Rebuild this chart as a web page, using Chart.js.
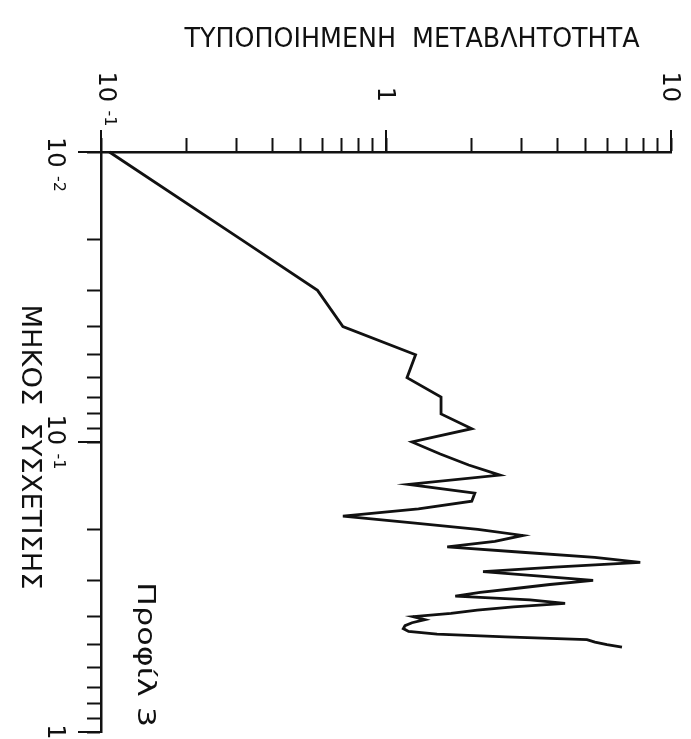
<!DOCTYPE html>
<html>
<head>
<meta charset="utf-8">
<script src="https://cdn.jsdelivr.net/npm/chart.js@4.4.1/dist/chart.umd.min.js"></script>
<style>
  html, body { margin: 0; padding: 0; background: #ffffff; }
  #wrap { width: 691px; height: 739px; position: relative; }
  canvas { display: block; }
</style>
</head>
<body>
<div id="wrap"><canvas id="c" width="691" height="739"></canvas></div>
<script>
// ---- data (correlation length vs normalised variability) ----
const lengths = [
  0.01, 0.02, 0.03, 0.04, 0.05, 0.06, 0.07, 0.08, 0.09, 0.10,
  0.11, 0.12, 0.13, 0.14, 0.15, 0.16, 0.17, 0.18, 0.19, 0.20,
  0.21, 0.22, 0.23, 0.24, 0.25, 0.26, 0.27, 0.28, 0.29, 0.30,
  0.31, 0.32, 0.33, 0.34, 0.35, 0.36, 0.37, 0.38, 0.39, 0.40,
  0.41, 0.42, 0.43, 0.44, 0.45, 0.46, 0.47, 0.48, 0.49, 0.50, 0.51
];
const variability = [
  0.107, 0.31, 0.575, 0.706, 1.27, 1.185, 1.56, 1.56, 2.00, 1.234,
  1.55, 1.95, 2.51, 1.20, 2.05, 2.00, 1.30, 0.706, 1.24, 2.10,
  3.02, 2.41, 1.64, 3.0, 5.4, 7.8, 3.9, 2.19, 3.47, 5.33,
  3.76, 2.84, 2.14, 1.75, 3.2, 4.25, 2.8, 2.09, 1.69, 1.244,
  1.37, 1.234, 1.166, 1.15, 1.20, 1.51, 2.62, 5.07, 5.41, 5.96, 6.73
];

// tick labels
const variabilityTicks = [0.1, 1, 10];
const variabilityTickLabels = ['10^-1', '1', '10'];
const lengthTicks = [0.01, 0.1, 1];
const lengthTickLabels = ['10^-2', '10^-1', '1'];

// texts
const variabilityTitle = 'ΤΥΠΟΠΟΙΗΜΕΝΗ  ΜΕΤΑΒΛΗΤΟΤΗΤΑ';
const lengthTitle = 'ΜΗΚΟΣ  ΣΥΣΧΕΤΙΣΗΣ';
const profileLabel = 'Προφίλ 3';

// ---- drawing ----
const INK = '#111111';
const FONT = '"DejaVu Sans", "Liberation Sans", sans-serif';

function keepIntegerMantissa(scale) {
  scale.ticks = scale.ticks.filter(t => {
    const e = Math.floor(Math.log10(t.value) + 1e-9);
    const m = t.value / Math.pow(10, e);
    return Math.abs(m - Math.round(m)) < 1e-6;
  });
}

function fitText(ctx, text, targetW) {
  const w = ctx.measureText(text).width;
  return targetW / w;
}

// draws "base^exp" label rotated +90deg (reading top->bottom, tops to the right)
function drawRotLabel(ctx, label, originX, startY, basePx, expPx) {
  const parts = label.split('^');
  const base = parts[0];
  const exp = parts[1];
  ctx.save();
  ctx.translate(originX, startY);
  ctx.rotate(Math.PI / 2);
  ctx.fillStyle = INK;
  ctx.textAlign = 'left';
  ctx.textBaseline = 'alphabetic';
  ctx.font = basePx + 'px ' + FONT;
  const bw = ctx.measureText(base).width;
  ctx.fillText(base, 0, 0);
  if (exp) {
    ctx.font = expPx + 'px ' + FONT;
    const raise = (basePx - expPx) * 0.73;
    ctx.fillText(exp, bw + basePx * 0.35, -raise);
  }
  ctx.restore();
}

function labelWidth(ctx, label, basePx, expPx) {
  const parts = label.split('^');
  ctx.font = basePx + 'px ' + FONT;
  let w = ctx.measureText(parts[0]).width;
  if (parts[1]) {
    ctx.font = expPx + 'px ' + FONT;
    w += basePx * 0.35 + ctx.measureText(parts[1]).width;
  }
  return w;
}

const textPlugin = {
  id: 'textPlugin',
  afterDraw(chart) {
    const ctx = chart.ctx;
    const xs = chart.scales.x;
    const ys = chart.scales.y;
    const area = chart.chartArea;
    ctx.save();
    ctx.strokeStyle = INK;
    ctx.lineWidth = 2;
    ctx.lineCap = 'butt';
    // longer major tick marks
    variabilityTicks.forEach(v => {
      const px = Math.round(xs.getPixelForValue(v));
      ctx.beginPath();
      ctx.moveTo(px, area.top);
      ctx.lineTo(px, area.top - 22);
      ctx.stroke();
    });
    lengthTicks.forEach(v => {
      const py = Math.round(ys.getPixelForValue(v));
      ctx.beginPath();
      ctx.moveTo(area.left, py);
      ctx.lineTo(area.left - 23, py);
      ctx.stroke();
    });

    // title (upright)
    ctx.fillStyle = INK;
    ctx.font = '27px ' + FONT;
    ctx.textAlign = 'center';
    ctx.textBaseline = 'alphabetic';
    const sx = fitText(ctx, variabilityTitle, 455);
    ctx.save();
    ctx.translate(412, 47);
    ctx.scale(sx, 1);
    ctx.fillText(variabilityTitle, 0, 0);
    ctx.restore();

    // length title (rotated, reading top to bottom)
    ctx.save();
    ctx.translate(22, 447);
    ctx.rotate(Math.PI / 2);
    ctx.font = '27px ' + FONT;
    ctx.textAlign = 'center';
    const sy = fitText(ctx, lengthTitle, 285);
    ctx.scale(sy, 1);
    ctx.fillText(lengthTitle, 0, 0);
    ctx.restore();

    // profile label
    ctx.save();
    ctx.translate(138, 582);
    ctx.rotate(Math.PI / 2);
    ctx.font = '24px ' + FONT;
    ctx.textAlign = 'left';
    const sp = fitText(ctx, profileLabel, 145);
    ctx.scale(sp, 1);
    ctx.fillText(profileLabel, 0, 0);
    ctx.restore();

    // variability tick labels (above the top axis), base ends near y=104
    const basePx = 24, expPx = 16;
    variabilityTicks.forEach((v, i) => {
      const px = xs.getPixelForValue(v);
      const label = variabilityTickLabels[i];
      const parts = label.split('^');
      ctx.font = basePx + 'px ' + FONT;
      const bw = ctx.measureText(parts[0]).width;
      const shift = parts[1] ? -2 : -8;
      drawRotLabel(ctx, label, px + shift, 102 - bw, basePx, expPx);
    });

    // length tick labels (left of the vertical axis), centred on tick
    lengthTicks.forEach((v, i) => {
      const py = ys.getPixelForValue(v);
      const label = lengthTickLabels[i];
      const w = labelWidth(ctx, label, basePx, expPx);
      let start = py - w / 2;
      if (start < 137) start = 137;
      drawRotLabel(ctx, label, 48, start, basePx, expPx);
    });
    ctx.restore();
  }
};

const points = lengths.map((L, i) => ({ x: variability[i], y: L }));

const axisCommon = {
  type: 'logarithmic',
  ticks: { display: false },
  grid: {
    drawOnChartArea: false,
    drawTicks: true,
    tickLength: 14,
    tickColor: INK,
    tickWidth: 2
  },
  border: { display: true, color: INK, width: 2.5 },
  title: { display: false },
  afterBuildTicks: keepIntegerMantissa
};

new Chart(document.getElementById('c'), {
  type: 'scatter',
  data: {
    datasets: [{
      data: points,
      showLine: true,
      borderColor: INK,
      borderWidth: 2.8,
      pointRadius: 0,
      pointHoverRadius: 0,
      tension: 0,
      fill: false,
      borderJoinStyle: 'miter',
      clip: false
    }]
  },
  options: {
    responsive: false,
    animation: false,
    devicePixelRatio: 1,
    layout: { padding: { top: 0, left: 0, right: 20, bottom: 7 } },
    plugins: { legend: { display: false }, tooltip: { enabled: false } },
    scales: {
      x: Object.assign({}, axisCommon, {
        position: 'top', min: 0.1, max: 10,
        afterFit: s => { s.height = 152; }
      }),
      y: Object.assign({}, axisCommon, {
        position: 'left', reverse: true, min: 0.01, max: 1,
        afterFit: s => { s.width = 101; }
      })
    }
  },
  plugins: [textPlugin]
});
</script>
</body>
</html>
